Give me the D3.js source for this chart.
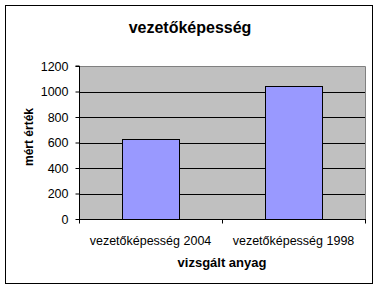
<!DOCTYPE html>
<html>
<head>
<meta charset="utf-8">
<script src="https://cdn.jsdelivr.net/npm/d3@7"></script>
<style>
  body { margin: 0; background: #fff; }
  svg { display: block; }
</style>
</head>
<body>
<div id="chart"></div>
<script>
const categories = ['vezetőképesség 2004', 'vezetőképesség 1998'];
const values = [625, 1040];
const yTicks = [0, 200, 400, 600, 800, 1000, 1200];
const chartTitle = 'vezetőképesség';
const xTitle = 'vizsgált anyag';
const yTitle = 'mért érték';

const W = 381, H = 290;
const plot = { left: 79, right: 365, top: 66, bottom: 219 };
const FONT = 'Arial, "Liberation Sans", sans-serif';

const svg = d3.select('#chart').append('svg')
  .attr('width', W).attr('height', H);

// outer chart frame
svg.append('rect')
  .attr('x', 5.5).attr('y', 5.5).attr('width', 367).attr('height', 278)
  .attr('fill', '#fff').attr('stroke', '#000').attr('stroke-width', 1);

const x = d3.scaleBand().domain(categories)
  .range([plot.left, plot.right]).paddingInner(0.6).paddingOuter(0.3);
const y = d3.scaleLinear().domain([0, 1200]).range([plot.bottom, plot.top]);

// plot area
svg.append('rect')
  .attr('x', plot.left).attr('y', plot.top)
  .attr('width', plot.right - plot.left).attr('height', plot.bottom - plot.top)
  .attr('fill', '#c0c0c0');
svg.append('path')
  .attr('d', `M${plot.left},${plot.top + 0.5}H${plot.right + 0.5}V${plot.bottom}`)
  .attr('fill', 'none').attr('stroke', '#808080');

// gridlines
svg.append('g').selectAll('line').data(yTicks.filter(d => d > 0 && d < 1200)).join('line')
  .attr('x1', plot.left).attr('x2', plot.right)
  .attr('y1', d => Math.round(y(d)) + 0.5).attr('y2', d => Math.round(y(d)) + 0.5)
  .attr('stroke', '#000');

// bars
svg.append('g').selectAll('rect').data(values).join('rect')
  .attr('x', (d, i) => Math.round(x(categories[i])) + 0.5)
  .attr('y', d => Math.round(y(d)) + 0.5)
  .attr('width', Math.round(x.bandwidth()))
  .attr('height', d => Math.round(y(0)) - Math.round(y(d)))
  .attr('fill', '#9999ff').attr('stroke', '#000');

// y axis
svg.append('g').attr('transform', `translate(${plot.left + 0.5},0)`)
  .call(d3.axisLeft(y).tickValues(yTicks).tickSize(4).tickPadding(7).tickFormat(d3.format('d')))
  .call(g => g.selectAll('path,line').attr('stroke', '#000'))
  .call(g => g.select('.domain').attr('d', `M-4,${plot.top}H0V${plot.bottom + 0.5}`))
  .call(g => g.selectAll('text').attr('fill', '#000').attr('font-size', '12.5px').attr('font-family', FONT));

// x axis
const xEdges = [plot.left, (plot.left + plot.right) / 2, plot.right];
const xAxis = svg.append('g').attr('transform', `translate(0,${plot.bottom + 0.5})`);
xAxis.append('line').attr('x1', plot.left).attr('x2', plot.right + 1).attr('stroke', '#000');
xAxis.selectAll('.tk').data(xEdges).join('line').attr('class', 'tk')
  .attr('x1', d => Math.round(d) + 0.5).attr('x2', d => Math.round(d) + 0.5)
  .attr('y1', 0).attr('y2', 4).attr('stroke', '#000');
xAxis.selectAll('text').data(categories).join('text')
  .attr('x', d => x(d) + x.bandwidth() / 2).attr('y', 25)
  .attr('text-anchor', 'middle').attr('font-size', '12.5px').attr('font-family', FONT)
  .text(d => d);

// titles
svg.append('text').attr('x', 190).attr('y', 33)
  .attr('text-anchor', 'middle').attr('font-size', '16px').attr('font-weight', 'bold')
  .attr('font-family', FONT).text(chartTitle);
svg.append('text').attr('x', 222).attr('y', 267)
  .attr('text-anchor', 'middle').attr('font-size', '13px').attr('font-weight', 'bold')
  .attr('font-family', FONT).text(xTitle);
svg.append('text').attr('transform', 'translate(33,137) rotate(-90)')
  .attr('text-anchor', 'middle').attr('font-size', '12px').attr('font-weight', 'bold')
  .attr('font-family', FONT).text(yTitle);
</script>
</body>
</html>
